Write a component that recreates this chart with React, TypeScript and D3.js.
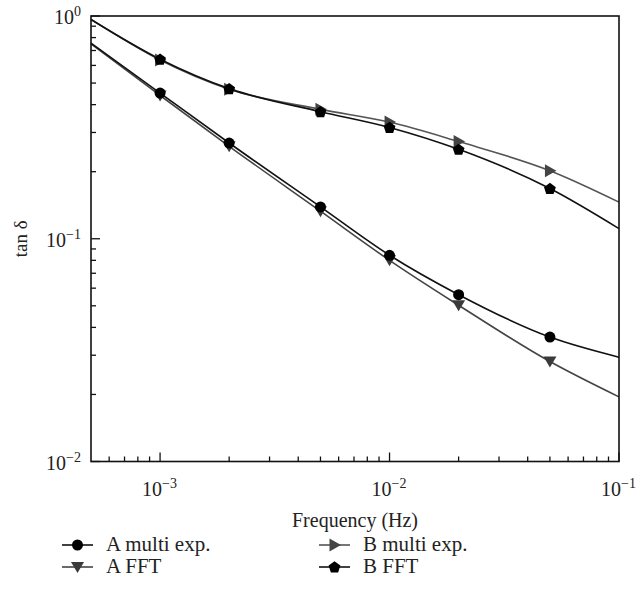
import React from "react";
import * as d3 from "d3";

const lineFreqs = [5e-4, 1e-3, 2e-3, 5e-3, 1e-2, 2e-2, 5e-2, 1e-1];
const aMulti = [0.756, 0.451, 0.269, 0.139, 0.0843, 0.0561, 0.0362, 0.0294];
const aFFT = [0.75, 0.44, 0.26, 0.133, 0.08, 0.0503, 0.0281, 0.0195];
const bMulti = [0.965, 0.634, 0.469, 0.381, 0.334, 0.273, 0.202, 0.146];
const bFFT = [0.965, 0.64, 0.472, 0.372, 0.316, 0.252, 0.168, 0.111];
const xTickExps = [-3, -2, -1];
const yTickExps = [0, -1, -2];

const W = 637, H = 598;
const M = { left: 91, top: 16, right: 619, bottom: 461.5 };
const FONT = "Liberation Serif, DejaVu Serif, serif";

type Series = { name: string; values: number[]; line: string; fill: string; marker: string };
const series: Series[] = [
  { name: "B multi exp.", values: bMulti, line: "#555", fill: "#444", marker: "triRight" },
  { name: "A FFT", values: aFFT, line: "#444", fill: "#3a3a3a", marker: "triDown" },
  { name: "A multi exp.", values: aMulti, line: "#111", fill: "#000", marker: "circle" },
  { name: "B FFT", values: bFFT, line: "#111", fill: "#000", marker: "pentagon" },
];

function Marker({ kind, x, y, fill }: { kind: string; x: number; y: number; fill: string }) {
  if (kind === "circle") return <circle cx={x} cy={y} r={5.5} fill={fill} />;
  let pts: [number, number][] = [];
  if (kind === "triDown") pts = [[-6.5, -5], [6.5, -5], [0, 6]];
  if (kind === "triRight") pts = [[-5, -6.5], [-5, 6.5], [6.5, 0]];
  if (kind === "pentagon") {
    pts = d3.range(5).map((i) => {
      const a = -Math.PI / 2 + (i * 2 * Math.PI) / 5;
      return [6.2 * Math.cos(a), 6.2 * Math.sin(a) + 0.5] as [number, number];
    });
  }
  return <polygon points={pts.map((p) => `${x + p[0]},${y + p[1]}`).join(" ")} fill={fill} />;
}

function Pow({ x, y, exp, anchor }: { x: number; y: number; exp: number; anchor: string }) {
  return (
    <text x={x} y={y} textAnchor={anchor as any} style={{ fontFamily: FONT }} fontSize={20} fill="#222">
      10
      <tspan dy={-8} fontSize={14}>{exp === 0 ? "0" : `\u2212${-exp}`}</tspan>
    </text>
  );
}

export default function App() {
  const x = d3.scaleLog().domain([5e-4, 1e-1]).range([M.left, M.right]);
  const y = d3.scaleLog().domain([1e-2, 1]).range([M.bottom, M.top]);
  const line = d3
    .line<[number, number]>()
    .x((d) => x(d[0]))
    .y((d) => y(d[1]))
    .curve(d3.curveMonotoneX);

  const xMinor: number[] = [];
  for (let e = -4; e <= -2; e++)
    for (let k = 2; k <= 9; k++) {
      const v = k * Math.pow(10, e);
      if (v > 5e-4 && v < 1e-1) xMinor.push(v);
    }
  const yMinor: number[] = [];
  for (let e = -2; e <= -1; e++) for (let k = 2; k <= 9; k++) yMinor.push(k * Math.pow(10, e));

  const legend = [
    { s: series[2], lx: 62, ly: 545 },
    { s: series[1], lx: 62, ly: 567 },
    { s: series[0], lx: 319, ly: 545 },
    { s: series[3], lx: 319, ly: 567 },
  ];

  return (
    <svg width={W} height={H} style={{ position: "absolute", left: 0, top: 0, background: "#fff" }}>
      <rect x={0} y={0} width={W} height={H} fill="#fff" />
      {series.map((s) => (
        <path
          key={s.name + "l"}
          d={line(lineFreqs.map((f, i) => [f, s.values[i]] as [number, number])) || ""}
          fill="none"
          stroke={s.line}
          strokeWidth={1.6}
        />
      ))}
      {series.map((s) =>
        lineFreqs.slice(1, 7).map((f, i) => (
          <Marker key={s.name + i} kind={s.marker} x={x(f)} y={y(s.values[i + 1])} fill={s.fill} />
        ))
      )}
      <rect
        x={M.left}
        y={M.top}
        width={M.right - M.left}
        height={M.bottom - M.top}
        fill="none"
        stroke="#111"
        strokeWidth={1.6}
      />
      {xTickExps.map((e) => (
        <line key={"xt" + e} x1={x(Math.pow(10, e))} x2={x(Math.pow(10, e))} y1={M.bottom} y2={M.bottom - 9} stroke="#111" strokeWidth={1.3} />
      ))}
      {xMinor.map((v) => (
        <line key={"xm" + v} x1={x(v)} x2={x(v)} y1={M.bottom} y2={M.bottom - 5} stroke="#111" strokeWidth={1.3} />
      ))}
      {yTickExps.map((e) => (
        <line key={"yt" + e} x1={M.left} x2={M.left + 9} y1={y(Math.pow(10, e))} y2={y(Math.pow(10, e))} stroke="#111" strokeWidth={1.3} />
      ))}
      {yMinor.map((v) => (
        <line key={"ym" + v} x1={M.left} x2={M.left + 5} y1={y(v)} y2={y(v)} stroke="#111" strokeWidth={1.3} />
      ))}
      {xTickExps.map((e) => (
        <Pow key={"xl" + e} x={x(Math.pow(10, e)) - 18} y={M.bottom + 34} exp={e} anchor="start" />
      ))}
      {yTickExps.map((e) => (
        <Pow key={"yl" + e} x={81} y={y(Math.pow(10, e)) + 8} exp={e} anchor="end" />
      ))}
      <text x={355} y={527} textAnchor="middle" style={{ fontFamily: FONT }} fontSize={20} fill="#222">
        Frequency (Hz)
      </text>
      <text
        transform={`translate(27,${y(0.1)}) rotate(-90)`}
        textAnchor="middle"
        style={{ fontFamily: FONT }}
        fontSize={19}
        fill="#222"
      >
        tan δ
      </text>
      {legend.map(({ s, lx, ly }) => (
        <g key={"lg" + s.name}>
          <line x1={lx} x2={lx + 31} y1={ly} y2={ly} stroke={s.line} strokeWidth={1.6} />
          <Marker kind={s.marker} x={lx + 15.5} y={ly} fill={s.fill} />
          <text x={lx + 44} y={ly + 6} style={{ fontFamily: FONT }} fontSize={21} fill="#222">
            {s.name}
          </text>
        </g>
      ))}
    </svg>
  );
}
